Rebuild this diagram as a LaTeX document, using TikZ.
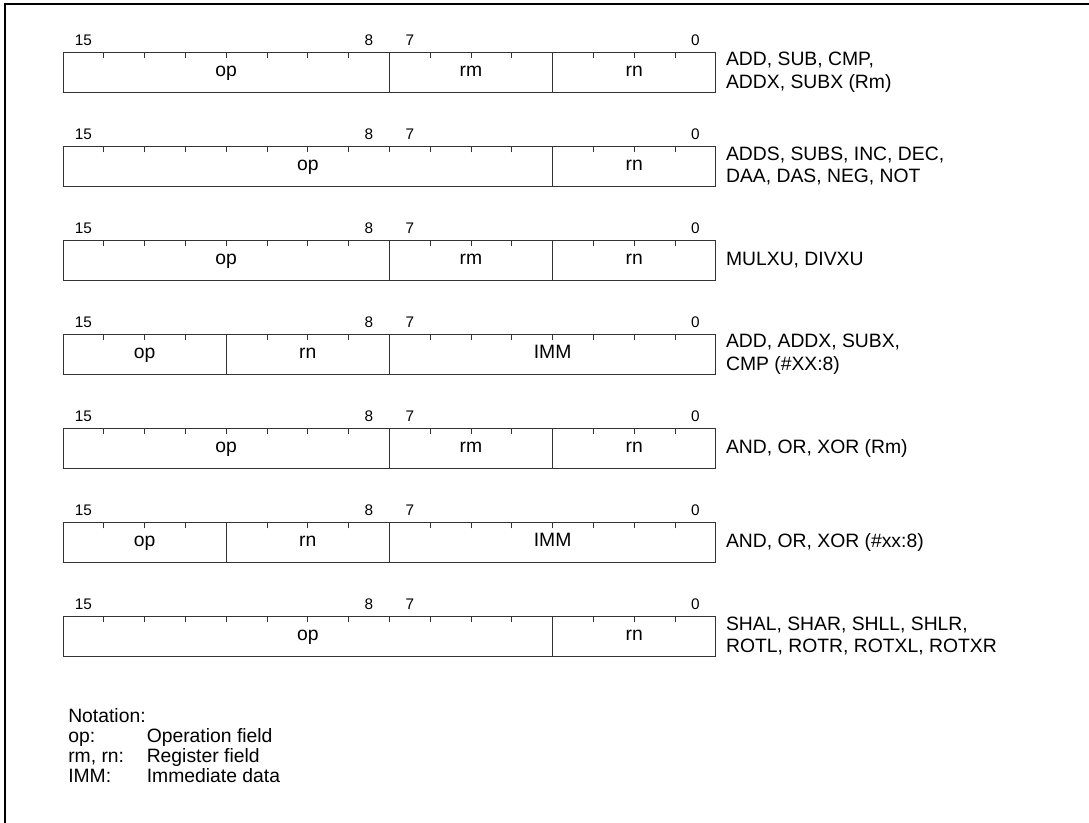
\documentclass[tikz,border=0pt]{standalone}
\usepackage{fontspec}
\setmainfont{Liberation Sans}
\usetikzlibrary{positioning}

\newcommand{\bitw}{30.6pt}

\begin{document}
\begin{tikzpicture}[
  x=0.75pt, y=-0.75pt,
  line cap=rect,
  fld/.style={draw=black!80, line width=0.7pt, minimum height=30pt, inner sep=0pt, outer sep=0pt,
    text height=10pt, text depth=3pt,
    anchor=north west, font=\fontsize{14.5}{16}\selectfont},
  tick/.style={draw=black!80, line width=0.7pt},
  bitno/.style={inner sep=0pt, font=\fontsize{11.5}{13}\selectfont},
  desc/.style={inner sep=0pt, align=left, anchor=west, font=\fontsize{14.5}{17}\selectfont},
  note/.style={inner sep=0pt, align=left, anchor=north west, font=\fontsize{14.5}{15}\selectfont}
]
\useasboundingbox (0,0) rectangle (1089,822);
\begin{scope}
\clip (0,0) rectangle (1089,822);
\draw[line width=1.9pt] (5,4) rectangle (1100,840);
\end{scope}

% bit numbers and ticks
\foreach \n/\t in {1/52,2/146,3/240,4/334,5/428,6/522,7/616}{
  \foreach \i in {1,...,15}
    \draw[tick] (63+\i*40.8,\t) -- ++(0,6);
  \node[bitno] (b15-\n) at (63+0.5*40.8,\t-12) {15};
  \node[bitno] (b8-\n) at (63+7.5*40.8,\t-12) {8};
  \node[bitno] (b7-\n) at (63+8.5*40.8,\t-12) {7};
  \node[bitno] (b0-\n) at (63+15.5*40.8,\t-12) {0};
}

% row 1
\node[fld, minimum width=8*\bitw] (op1) at (63,52) {op};
\node[fld, minimum width=4*\bitw, right=0pt of op1] (rm1) {rm};
\node[fld, minimum width=4*\bitw, right=0pt of rm1] (rn1) {rn};
\node[desc, right=7.5pt of rn1] (d1) {ADD, SUB, CMP,\\ADDX, SUBX (Rm)};

% row 2
\node[fld, minimum width=12*\bitw] (op2) at (63,146) {op};
\node[fld, minimum width=4*\bitw, right=0pt of op2] (rn2) {rn};
\node[desc, right=7.5pt of rn2] (d2) {ADDS, SUBS, INC, DEC,\\DAA, DAS, NEG, NOT};

% row 3
\node[fld, minimum width=8*\bitw] (op3) at (63,240) {op};
\node[fld, minimum width=4*\bitw, right=0pt of op3] (rm3) {rm};
\node[fld, minimum width=4*\bitw, right=0pt of rm3] (rn3) {rn};
\node[desc, right=7.5pt of rn3] (d3) {MULXU, DIVXU};

% row 4
\node[fld, minimum width=4*\bitw] (op4) at (63,334) {op};
\node[fld, minimum width=4*\bitw, right=0pt of op4] (rn4) {rn};
\node[fld, minimum width=8*\bitw, right=0pt of rn4] (imm4) {IMM};
\node[desc, right=7.5pt of imm4] (d4) {ADD, ADDX, SUBX,\\CMP (\#XX:8)};

% row 5
\node[fld, minimum width=8*\bitw] (op5) at (63,428) {op};
\node[fld, minimum width=4*\bitw, right=0pt of op5] (rm5) {rm};
\node[fld, minimum width=4*\bitw, right=0pt of rm5] (rn5) {rn};
\node[desc, right=7.5pt of rn5] (d5) {AND, OR, XOR (Rm)};

% row 6
\node[fld, minimum width=4*\bitw] (op6) at (63,522) {op};
\node[fld, minimum width=4*\bitw, right=0pt of op6] (rn6) {rn};
\node[fld, minimum width=8*\bitw, right=0pt of rn6] (imm6) {IMM};
\node[desc, right=7.5pt of imm6] (d6) {AND, OR, XOR (\#xx:8)};

% row 7
\node[fld, minimum width=12*\bitw] (op7) at (63,616) {op};
\node[fld, minimum width=4*\bitw, right=0pt of op7] (rn7) {rn};
\node[desc, right=7.5pt of rn7] (d7) {SHAL, SHAR, SHLL, SHLR,\\ROTL, ROTR, ROTXL, ROTXR};

% notation
\node[note] (nota) at (68,708) {%
  \begin{tabular}{@{}l@{\hspace{17pt}}l@{}}
  \multicolumn{2}{@{}l}{Notation:}\\
  op: & Operation field\\
  rm, rn: & Register field\\
  IMM: & Immediate data
  \end{tabular}};
\end{tikzpicture}
\end{document}
